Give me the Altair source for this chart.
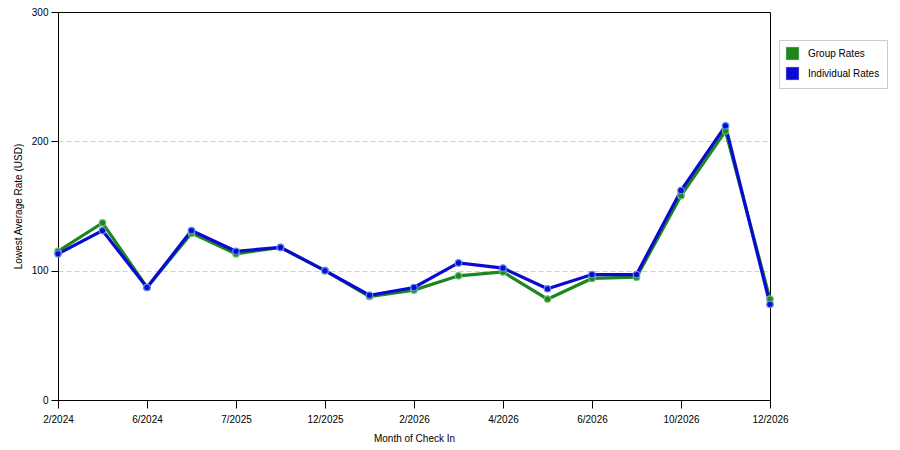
import pandas as pd
import altair as alt

# ─── Data ─────────────────────────────────────────────────────────────────────

MONTHS = [
    "2/2024", "4/2024", "6/2024", "12/2024", "7/2025", "9/2025", "12/2025", "1/2026",
    "2/2026", "3/2026", "4/2026", "5/2026", "6/2026", "8/2026", "10/2026", "11/2026", "12/2026",
]
TICK_LABELS = ["2/2024", "6/2024", "7/2025", "12/2025", "2/2026", "4/2026", "6/2026", "10/2026", "12/2026"]
GROUP_RATES = [115, 137, 87, 129, 113, 118, 100, 80, 85, 96, 99, 78, 94, 95, 158, 208, 78]
INDIVIDUAL_RATES = [113, 131, 87, 131, 115, 118, 100, 81, 87, 106, 102, 86, 97, 97, 162, 212, 74]

SERIES = ["Group Rates", "Individual Rates"]
LINE_COLORS = ["#1e861e", "#0a0ad2"]
HALO_COLORS = ["#6cbf6c", "#5f8cf0"]

FONT = "Liberation Sans"

df = pd.DataFrame(
    [{"month": m, "rate": v, "series": SERIES[0], "order": i} for i, (m, v) in enumerate(zip(MONTHS, GROUP_RATES))]
    + [{"month": m, "rate": v, "series": SERIES[1], "order": i} for i, (m, v) in enumerate(zip(MONTHS, INDIVIDUAL_RATES))]
)

x_enc = alt.X(
    "month:O", sort=MONTHS, title="Month of Check In",
    scale=alt.Scale(type="point", padding=0),
    axis=alt.Axis(values=TICK_LABELS, labelAngle=0, tickSize=8, labelPadding=6,
                  titlePadding=9, grid=False),
)
y_enc = alt.Y(
    "rate:Q", title="Lowest Average Rate (USD)",
    scale=alt.Scale(domain=[0, 300], nice=False),
    axis=alt.Axis(values=[0, 100, 200, 300], tickSize=7, labelPadding=3, titlePadding=8,
                  grid=True, gridDash=[5, 3], gridColor="#cfcfcf",
                  gridOpacity={"condition": {"test": "datum.value == 300 || datum.value == 0", "value": 0},
                               "value": 1}),
)
color_enc = alt.Color(
    "series:N", title=None,
    scale=alt.Scale(domain=SERIES, range=LINE_COLORS),
    legend=alt.Legend(
        orient="none", legendX=721, legendY=28, symbolType="square", symbolSize=150,
        symbolStrokeColor="#333333", symbolStrokeWidth=0.6, labelFontSize=10,
        labelOffset=9, rowPadding=5, padding=7, strokeColor="#cccccc",
        fillColor="#ffffff", labelLimit=200, symbolOpacity=1,
    ),
)

lines = alt.Chart(df).mark_line(strokeWidth=3.2).encode(
    x=x_enc, y=y_enc, color=color_enc, order="order:Q",
)
points = alt.Chart(df).mark_circle(size=42, opacity=1).encode(
    x=x_enc, y=y_enc, color=color_enc,
    stroke=alt.Stroke("series:N", scale=alt.Scale(domain=SERIES, range=HALO_COLORS), legend=None),
    strokeWidth=alt.value(1.2),
)

chart = (
    alt.layer(lines, points)
    .properties(width=712, height=388, autosize=alt.AutoSizeParams(type="none"),
                padding={"left": 50, "top": 4, "right": 122, "bottom": 42})
    .configure_view(stroke="#000000", strokeWidth=1)
    .configure_axis(
        labelFont=FONT, titleFont=FONT, labelFontSize=10, titleFontSize=10,
        titleFontWeight="normal", labelColor="#000000", titleColor="#000000",
        domainColor="#000000", tickColor="#000000",
    )
    .configure_legend(labelFont=FONT, labelColor="#000000")
)

chart.save("out.html", embed_options={"renderer": "svg", "actions": False})
